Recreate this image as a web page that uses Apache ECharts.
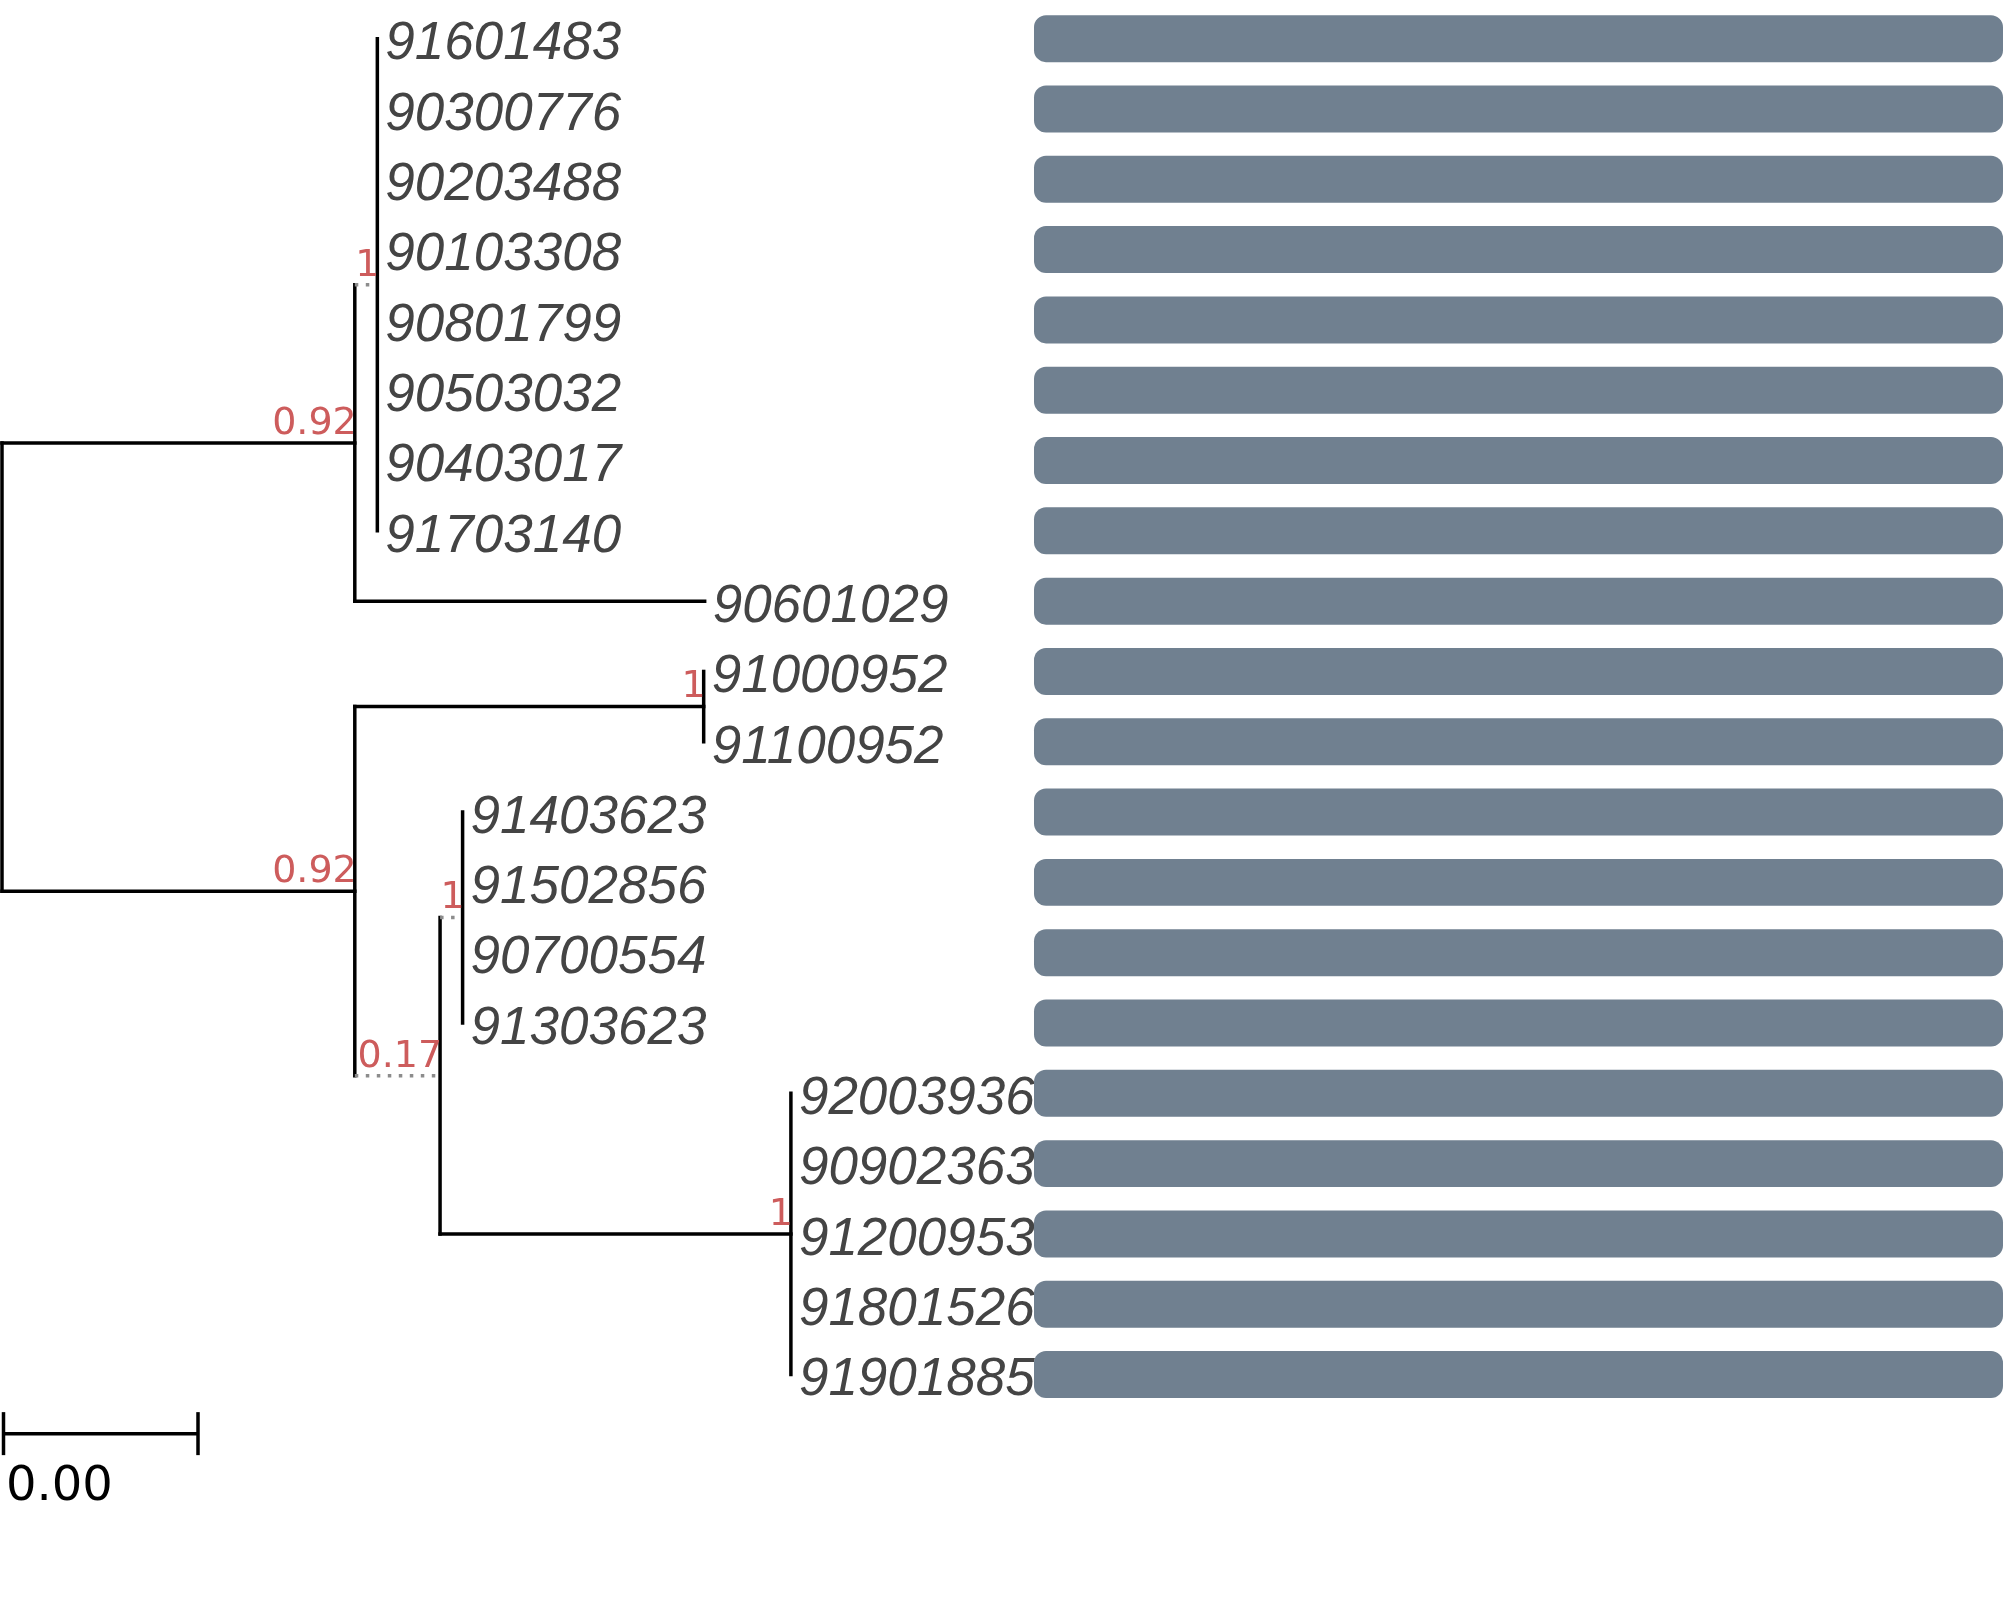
<!DOCTYPE html>
<html>
<head>
<meta charset="utf-8">
<script src="https://cdn.jsdelivr.net/npm/echarts@6/dist/echarts.min.js"></script>
<style>
  html, body { margin: 0; padding: 0; background: #fff; }
  #tree_chart { width: 2007px; height: 1609px; }
</style>
</head>
<body>
<div id="tree_chart"></div>
<script>
// tips, top to bottom
var tipLabels = ['91601483', '90300776', '90203488', '90103308', '90801799', '90503032', '90403017', '91703140',
    '90601029', '91000952', '91100952', '91403623', '91502856', '90700554', '91303623',
    '92003936', '90902363', '91200953', '91801526', '91901885'];
var tipParent = ['B', 'B', 'B', 'B', 'B', 'B', 'B', 'B', 'A', 'D', 'D', 'F', 'F', 'F', 'F', 'G', 'G', 'G', 'G', 'G'];
// branch lengths in units of 0.001
var tipBranch = [0, 0, 0, 0, 0, 0, 0, 0, 3.57, 0, 0, 0, 0, 0, 0, 0, 0, 0, 0, 0];
// internal nodes
var nodeIds = ['root', 'A', 'B', 'C', 'D', 'E', 'F', 'G'];
var nodeParent = [null, 'root', 'A', 'root', 'C', 'C', 'E', 'E'];
var nodeBranch = [0, 3.6, 0.23, 3.6, 3.56, 0.87, 0.23, 3.58];
var nodeSupport = ['', '0.92', '1', '0.92', '1', '0.17', '1', '1'];
// bar panel on the right
var barValues = [1, 1, 1, 1, 1, 1, 1, 1, 1, 1, 1, 1, 1, 1, 1, 1, 1, 1, 1, 1];
// scale bar
var scaleLength = 2;
var scaleText = (scaleLength * 0.001).toFixed(2);

var dottedNodes = ['B', 'E', 'F'];
var scaleRow = 19.84;

// ---- layout of the tree from the arrays above ----
var depth = {}, ypos = {}, children = {};
nodeIds.forEach(function (id) { children[id] = []; });
nodeIds.forEach(function (id, i) {
    if (nodeParent[i]) children[nodeParent[i]].push({ id: id, tip: false });
});
tipLabels.forEach(function (t, i) { children[tipParent[i]].push({ id: i, tip: true }); });

function setDepth(id, d) {
    depth[id] = d;
    children[id].forEach(function (c) {
        if (c.tip) depth['t' + c.id] = d + tipBranch[c.id];
        else setDepth(c.id, d + nodeBranch[nodeIds.indexOf(c.id)]);
    });
}
function setY(id) {
    var ys = children[id].map(function (c) {
        if (c.tip) { ypos['t' + c.id] = c.id; return c.id; }
        return setY(c.id);
    });
    var lo = Math.min.apply(null, ys), hi = Math.max.apply(null, ys);
    ypos[id] = (lo + hi) / 2;
    ypos[id + '_lo'] = lo;
    ypos[id + '_hi'] = hi;
    return ypos[id];
}
setDepth('root', 0);
setY('root');

var segments = [];
nodeIds.forEach(function (id) {
    segments.push([depth[id], ypos[id + '_lo'], depth[id], ypos[id + '_hi'], 0]);
    children[id].forEach(function (c) {
        var key = c.tip ? 't' + c.id : c.id;
        if (depth[key] > depth[id]) {
            segments.push([depth[id], ypos[key], depth[key], ypos[key], dottedNodes.indexOf(key) >= 0 ? 1 : 0]);
        }
    });
});

var tipData = tipLabels.map(function (t, i) { return [depth['t' + i], i, t]; });
var supportData = [];
nodeIds.forEach(function (id, i) {
    if (nodeSupport[i]) supportData.push([depth[id], ypos[id], nodeSupport[i]]);
});
var barData = barValues.map(function (v, i) { return [v, i]; });

var chart = echarts.init(document.getElementById('tree_chart'));
chart.setOption({
    animation: false,
    backgroundColor: '#ffffff',
    grid: [
        { left: 2, top: 3.5, width: 980, height: 1582 },
        { left: 1034, top: 3.5, right: 4, height: 1582 }
    ],
    xAxis: [
        { gridIndex: 0, type: 'value', min: 0, max: 10, show: false },
        { gridIndex: 1, type: 'value', min: 0, max: 1, show: false }
    ],
    yAxis: [
        { gridIndex: 0, type: 'value', min: -0.5, max: 22, inverse: true, show: false },
        { gridIndex: 1, type: 'value', min: -0.5, max: 22, inverse: true, show: false }
    ],
    series: [
        // branches
        {
            type: 'custom',
            xAxisIndex: 0, yAxisIndex: 0,
            data: segments,
            renderItem: function (params, api) {
                var a = api.coord([api.value(0), api.value(1)]);
                var b = api.coord([api.value(2), api.value(3)]);
                var dotted = api.value(4) === 1;
                return {
                    type: 'line',
                    shape: { x1: a[0], y1: a[1], x2: b[0], y2: b[1] },
                    style: dotted
                        ? { stroke: '#8c8c8c', lineWidth: 3.5, lineDash: [3.5, 7.5], lineCap: 'butt' }
                        : { stroke: '#000000', lineWidth: 3.5, lineCap: 'square' }
                };
            }
        },
        // tip labels
        {
            type: 'custom',
            xAxisIndex: 0, yAxisIndex: 0,
            data: tipData,
            renderItem: function (params, api) {
                var p = api.coord([api.value(0), api.value(1)]);
                return {
                    type: 'text',
                    style: {
                        x: p[0] + 8, y: p[1] + 6,
                        text: tipData[params.dataIndex][2],
                        font: 'italic 53px "Liberation Sans"',
                        fill: '#444444',
                        align: 'left', verticalAlign: 'middle'
                    }
                };
            }
        },
        // support values
        {
            type: 'custom',
            xAxisIndex: 0, yAxisIndex: 0,
            data: supportData,
            renderItem: function (params, api) {
                var p = api.coord([api.value(0), api.value(1)]);
                return {
                    type: 'text',
                    style: {
                        x: p[0] + 2, y: p[1] - 19,
                        text: supportData[params.dataIndex][2],
                        font: '38px "DejaVu Sans"',
                        fill: '#cd5c5c',
                        align: 'right', verticalAlign: 'middle'
                    }
                };
            }
        },
        // scale bar
        {
            type: 'custom',
            xAxisIndex: 0, yAxisIndex: 0,
            data: [[0, scaleRow, scaleLength]],
            renderItem: function (params, api) {
                var a = api.coord([api.value(0), api.value(1)]);
                var b = api.coord([api.value(2), api.value(1)]);
                var st = { stroke: '#000000', lineWidth: 3.5 };
                return {
                    type: 'group',
                    children: [
                        { type: 'line', shape: { x1: a[0] + 1.5, y1: a[1], x2: b[0], y2: b[1] }, style: st },
                        { type: 'line', shape: { x1: a[0] + 1.5, y1: a[1] - 21.5, x2: a[0] + 1.5, y2: a[1] + 21.5 }, style: st },
                        { type: 'line', shape: { x1: b[0], y1: b[1] - 21.5, x2: b[0], y2: b[1] + 21.5 }, style: st },
                        {
                            type: 'text',
                            style: {
                                x: a[0] + 4, y: a[1] + 54,
                                text: scaleText,
                                font: '48px "DejaVu Sans"',
                                fill: '#000000',
                                align: 'left', verticalAlign: 'middle'
                            }
                        }
                    ]
                };
            }
        },
        // bars
        {
            type: 'custom',
            xAxisIndex: 1, yAxisIndex: 1,
            data: barData,
            renderItem: function (params, api) {
                var a = api.coord([0, api.value(1)]);
                var b = api.coord([api.value(0), api.value(1)]);
                var h = api.size([0, 1])[1] * 0.668;
                return {
                    type: 'rect',
                    shape: { x: a[0], y: a[1] - h / 2, width: b[0] - a[0], height: h, r: 12 },
                    style: { fill: '#708090' }
                };
            }
        }
    ]
});
</script>
</body>
</html>
